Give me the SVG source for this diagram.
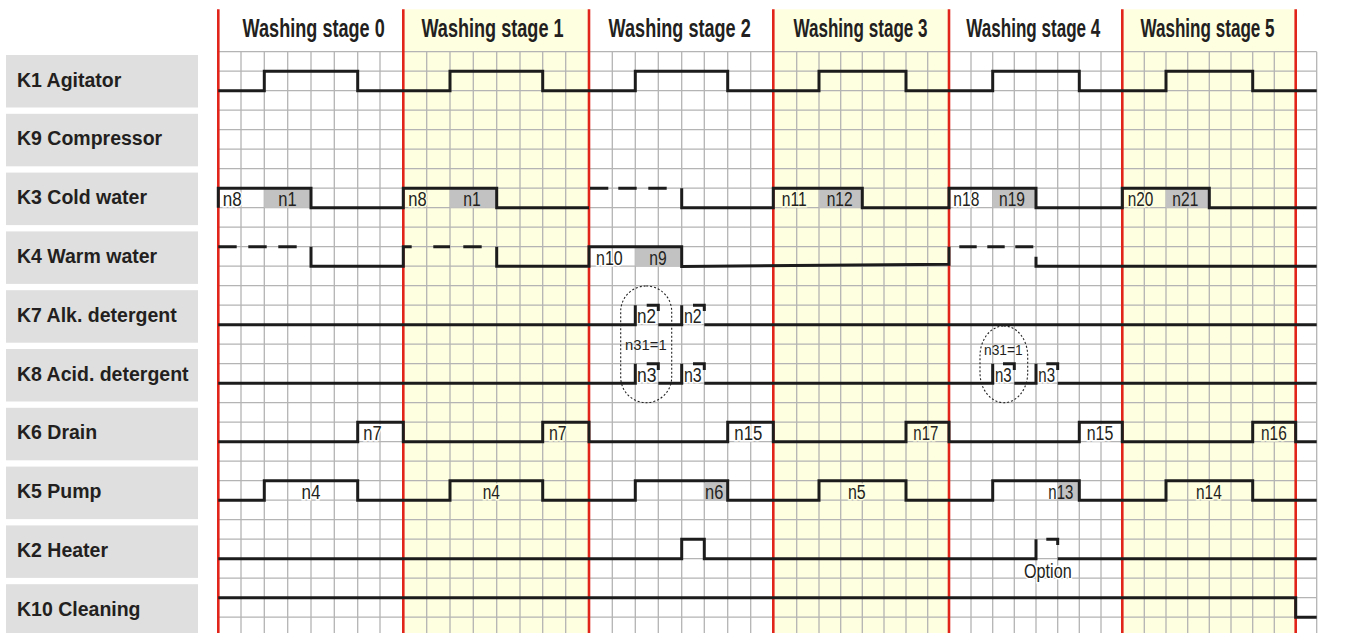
<svg xmlns="http://www.w3.org/2000/svg" width="1358" height="633" viewBox="0 0 1358 633">
<style>
.bgy{fill:#fefee0}
.grid{stroke:#b4b4b4;stroke-width:1.3;fill:none}
.red{stroke:#e1251b;stroke-width:2.6;fill:none}
.sig{stroke:#1c1c1c;stroke-width:3;fill:none;stroke-linejoin:miter;stroke-linecap:butt}
.box{fill:#dfdfdf}
.gray{fill:#c2c2c2}
.dot{fill:none;stroke:#222;stroke-width:1.1;stroke-dasharray:2 2}
.lbl{font-family:"Liberation Sans",Arial,sans-serif;font-weight:bold;font-size:19.5px;fill:#231f20}
.hdr{font-family:"Liberation Sans",Arial,sans-serif;font-weight:bold;font-size:25.5px;fill:#231f20;text-anchor:middle}
.n{font-family:"Liberation Sans",Arial,sans-serif;font-size:20px;fill:#231f20}
.s{font-family:"Liberation Sans",Arial,sans-serif;font-size:14.5px;fill:#231f20}
.hw{stroke:#fff;stroke-width:3;paint-order:stroke}
.hy{stroke:#fefee0;stroke-width:3;paint-order:stroke}
</style>
<rect x="0" y="0" width="1358" height="633" fill="#fff"/>
<g id="stage-backgrounds">
<rect class="bgy" x="403.3" y="9.3" width="185.7" height="623.7"/>
<rect class="bgy" x="773.3" y="9.3" width="175.7" height="623.7"/>
<rect class="bgy" x="1122.3" y="9.3" width="173.4" height="623.7"/>
</g>
<g id="grid">
<path class="grid" d="M218.3 51.7V633M241 51.7V633M264.3 51.7V633M287.7 51.7V633M311 51.7V633M334.3 51.7V633M357.7 51.7V633M380 51.7V633M403.3 51.7V633M426.7 51.7V633M450 51.7V633M473.3 51.7V633M496.7 51.7V633M520 51.7V633M542.7 51.7V633M565.7 51.7V633M589 51.7V633M612.3 51.7V633M635.3 51.7V633M658.3 51.7V633M681.7 51.7V633M704.3 51.7V633M727.7 51.7V633M750.7 51.7V633M773.3 51.7V633M796.7 51.7V633M819 51.7V633M840.7 51.7V633M862.3 51.7V633M884 51.7V633M906 51.7V633M927.7 51.7V633M949 51.7V633M971 51.7V633M992.7 51.7V633M1014.3 51.7V633M1036 51.7V633M1057.7 51.7V633M1079.3 51.7V633M1101 51.7V633M1122.3 51.7V633M1144.3 51.7V633M1166 51.7V633M1187.7 51.7V633M1209.3 51.7V633M1231 51.7V633M1252.7 51.7V633M1274.3 51.7V633M1295.7 51.7V633M1316.7 51.7V633"/>
<path class="grid" d="M218.3 51.7H1316.7M218.3 71.2H1316.7M218.3 90.7H1316.7M218.3 110.2H1316.7M218.3 129.7H1316.7M218.3 149.2H1316.7M218.3 168.7H1316.7M218.3 188.2H1316.7M218.3 207.7H1316.7M218.3 227.2H1316.7M218.3 246.7H1316.7M218.3 266.2H1316.7M218.3 285.7H1316.7M218.3 305.2H1316.7M218.3 324.7H1316.7M218.3 344.2H1316.7M218.3 363.7H1316.7M218.3 383.2H1316.7M218.3 402.7H1316.7M218.3 422.2H1316.7M218.3 441.7H1316.7M218.3 461.2H1316.7M218.3 480.7H1316.7M218.3 500.2H1316.7M218.3 519.7H1316.7M218.3 539.2H1316.7M218.3 558.7H1316.7M218.3 578.2H1316.7M218.3 597.7H1316.7M218.3 617.2H1316.7"/>
</g>
<g id="stage-dividers">
<path class="red" d="M218.3 9.3V633M403.3 9.3V633M589 9.3V633M773.3 9.3V633M949 9.3V633M1122.3 9.3V633M1295.7 9.3V633"/>
</g>
<g id="stage-headers">
<g id="stage0"><text class="hdr" transform="translate(313.7 36.7) scale(0.71 1)">Washing stage 0</text></g>
<g id="stage1"><text class="hdr" transform="translate(492.5 36.7) scale(0.71 1)">Washing stage 1</text></g>
<g id="stage2"><text class="hdr" transform="translate(679.7 36.7) scale(0.71 1)">Washing stage 2</text></g>
<g id="stage3"><text class="hdr" transform="translate(860.5 36.7) scale(0.67 1)">Washing stage 3</text></g>
<g id="stage4"><text class="hdr" transform="translate(1033.3 36.7) scale(0.67 1)">Washing stage 4</text></g>
<g id="stage5"><text class="hdr" transform="translate(1207.5 36.7) scale(0.67 1)">Washing stage 5</text></g>
</g>
<g id="row-labels">
<g id="label-K1"><rect class="box" x="6" y="55" width="192" height="52.5"/><text class="lbl" x="17" y="86.5">K1 Agitator</text></g>
<g id="label-K9"><rect class="box" x="6" y="113.8" width="192" height="52.5"/><text class="lbl" x="17" y="145.3">K9 Compressor</text></g>
<g id="label-K3"><rect class="box" x="6" y="172.6" width="192" height="52.5"/><text class="lbl" x="17" y="204.1">K3 Cold water</text></g>
<g id="label-K4"><rect class="box" x="6" y="231.4" width="192" height="52.5"/><text class="lbl" x="17" y="262.9">K4 Warm water</text></g>
<g id="label-K7"><rect class="box" x="6" y="290.2" width="192" height="52.5"/><text class="lbl" x="17" y="321.7">K7 Alk. detergent</text></g>
<g id="label-K8"><rect class="box" x="6" y="349" width="192" height="52.5"/><text class="lbl" x="17" y="380.5">K8 Acid. detergent</text></g>
<g id="label-K6"><rect class="box" x="6" y="407.8" width="192" height="52.5"/><text class="lbl" x="17" y="439.3">K6 Drain</text></g>
<g id="label-K5"><rect class="box" x="6" y="466.6" width="192" height="52.5"/><text class="lbl" x="17" y="498.1">K5 Pump</text></g>
<g id="label-K2"><rect class="box" x="6" y="525.4" width="192" height="52.5"/><text class="lbl" x="17" y="556.9">K2 Heater</text></g>
<g id="label-K10"><rect class="box" x="6" y="584.2" width="192" height="52.5"/><text class="lbl" x="17" y="615.7">K10 Cleaning</text></g>
</g>
<g id="time-boxes">
<rect class="gray" x="264.3" y="188.2" width="46.7" height="19.5"/>
<rect class="gray" x="450" y="188.2" width="46.7" height="19.5"/>
<rect class="gray" x="819" y="188.2" width="43.3" height="19.5"/>
<rect class="gray" x="992.7" y="188.2" width="43.3" height="19.5"/>
<rect class="gray" x="1166" y="188.2" width="43.3" height="19.5"/>
<rect class="gray" x="635.3" y="246.7" width="46.4" height="19.5"/>
<rect class="gray" x="704.3" y="482.5" width="23.4" height="17.7"/>
<rect class="gray" x="1057.7" y="482.5" width="21.6" height="17.7"/>
</g>
<g id="annotations">
<rect class="dot" x="620.7" y="286" width="51" height="116.7" rx="25.5" ry="25.5"/>
<rect class="dot" x="980" y="326" width="47.7" height="76.7" rx="23.8" ry="30"/>
<text class="s" x="625" y="350" textLength="41.7" lengthAdjust="spacingAndGlyphs">n31=1</text>
<text class="s" x="984" y="355" textLength="38.7" lengthAdjust="spacingAndGlyphs">n31=1</text>
<text class="n hw" x="1024" y="578" textLength="47.7" lengthAdjust="spacingAndGlyphs">Option</text>
</g>
<g id="signal-labels">
<text class="n hw" x="222.7" y="206.3" textLength="19" lengthAdjust="spacingAndGlyphs">n8</text>
<text class="n" x="278.3" y="206.3" textLength="18.4" lengthAdjust="spacingAndGlyphs">n1</text>
<text class="n hy" x="408.3" y="206.3" textLength="18.4" lengthAdjust="spacingAndGlyphs">n8</text>
<text class="n" x="463.3" y="206.3" textLength="17.5" lengthAdjust="spacingAndGlyphs">n1</text>
<text class="n hy" x="781.7" y="206.3" textLength="25" lengthAdjust="spacingAndGlyphs">n11</text>
<text class="n" x="826.7" y="206.3" textLength="26" lengthAdjust="spacingAndGlyphs">n12</text>
<text class="n hw" x="953.3" y="206.3" textLength="26" lengthAdjust="spacingAndGlyphs">n18</text>
<text class="n" x="999" y="206.3" textLength="26" lengthAdjust="spacingAndGlyphs">n19</text>
<text class="n hy" x="1127.7" y="206.3" textLength="25.6" lengthAdjust="spacingAndGlyphs">n20</text>
<text class="n" x="1172.3" y="206.3" textLength="26" lengthAdjust="spacingAndGlyphs">n21</text>
<text class="n hw" x="596" y="264.8" textLength="26.7" lengthAdjust="spacingAndGlyphs">n10</text>
<text class="n" x="649.3" y="264.8" textLength="17.4" lengthAdjust="spacingAndGlyphs">n9</text>
<text class="n hw" x="637" y="323.3" textLength="19" lengthAdjust="spacingAndGlyphs">n2</text>
<text class="n hw" x="684" y="323.3" textLength="17.7" lengthAdjust="spacingAndGlyphs">n2</text>
<text class="n hw" x="637" y="381.8" textLength="19.5" lengthAdjust="spacingAndGlyphs">n3</text>
<text class="n hw" x="684" y="381.8" textLength="17.7" lengthAdjust="spacingAndGlyphs">n3</text>
<text class="n hw" x="995" y="381.8" textLength="16.7" lengthAdjust="spacingAndGlyphs">n3</text>
<text class="n hw" x="1038.3" y="381.8" textLength="16.7" lengthAdjust="spacingAndGlyphs">n3</text>
<text class="n hw" x="363.3" y="440.3" textLength="18.4" lengthAdjust="spacingAndGlyphs">n7</text>
<text class="n hy" x="549" y="440.3" textLength="17.7" lengthAdjust="spacingAndGlyphs">n7</text>
<text class="n hw" x="734.3" y="440.3" textLength="28" lengthAdjust="spacingAndGlyphs">n15</text>
<text class="n hy" x="913.3" y="440.3" textLength="25" lengthAdjust="spacingAndGlyphs">n17</text>
<text class="n hw" x="1086.7" y="440.3" textLength="26.6" lengthAdjust="spacingAndGlyphs">n15</text>
<text class="n hy" x="1261" y="440.3" textLength="25.7" lengthAdjust="spacingAndGlyphs">n16</text>
<text class="n hw" x="301.5" y="498.8" textLength="19" lengthAdjust="spacingAndGlyphs">n4</text>
<text class="n hy" x="482.7" y="498.8" textLength="17.3" lengthAdjust="spacingAndGlyphs">n4</text>
<text class="n" x="705" y="498.8" textLength="18.3" lengthAdjust="spacingAndGlyphs">n6</text>
<text class="n hy" x="848" y="498.8" textLength="17.7" lengthAdjust="spacingAndGlyphs">n5</text>
<text class="n" x="1048.3" y="498.8" textLength="25" lengthAdjust="spacingAndGlyphs">n13</text>
<text class="n hy" x="1196" y="498.8" textLength="25.7" lengthAdjust="spacingAndGlyphs">n14</text>
</g>
<g id="signals">
<g id="sig-K1"><path class="sig" d="M218.3 90.7H264.3V71.2H357.7V90.7H450V71.2H542.7V90.7H635.3V71.2H727.7V90.7H819V71.2H906V90.7H992.7V71.2H1079.3V90.7H1166V71.2H1252.7V90.7H1316.7"/></g>
<g id="sig-K3"><path class="sig" d="M218.3 207.7V188.2H311V207.7H403.3V188.2H496.7V207.7H589M590 188.2H608.3M618.3 188.2H636.7M648.3 188.2H666.7M681.7 188.2V207.7H773.3V188.2H862.3V207.7H949V188.2H1036V207.7H1122.3V188.2H1209.3V207.7H1316.7"/></g>
<g id="sig-K4"><path class="sig" d="M218.3 246.7H236.7M248.3 246.7H266.7M278.3 246.7H296.7M311 246.7V266.2H403.3V246.7H411.7M433.3 246.7H450M463.3 246.7H481.7M496.7 246.7V266.2H589V246.7H681.7V266.4L949 264.2V246.7M959.3 246.7H976.7M987.3 246.7H1004.7M1015.3 246.7H1033.3M1036 256.7V266.2H1316.7"/></g>
<g id="sig-K7"><path class="sig" d="M218.3 324.7H635.3V305.2M646.7 305.2H658.3V311M658.3 324.7H681.7V305.2M693 305.2H704.3V311M704.3 324.7H1316.7"/></g>
<g id="sig-K8"><path class="sig" d="M218.3 383.2H635.3V363.7M646.7 363.7H658.3V370M658.3 383.2H681.7V363.7M693 363.7H704.3V370M704.3 383.2H992.7V363.7M1003 363.7H1014.3V370M1014.3 383.2H1036V363.7M1046.3 363.7H1057.7V370M1057.7 383.2H1316.7"/></g>
<g id="sig-K6"><path class="sig" d="M218.3 441.7H357.7V422.2H403.3V441.7H542.7V422.2H589V441.7H727.7V422.2H773.3V441.7H906V422.2H949V441.7H1079.3V422.2H1122.3V441.7H1252.7V422.2H1295.7V441.7H1316.7"/></g>
<g id="sig-K5"><path class="sig" d="M218.3 500.2H264.3V480.7H357.7V500.2H450V480.7H542.7V500.2H635.3V480.7H727.7V500.2H819V480.7H906V500.2H992.7V480.7H1079.3V500.2H1166V480.7H1252.7V500.2H1316.7"/></g>
<g id="sig-K2"><path class="sig" d="M218.3 558.7H681.7V539.2H704.3V558.7H1036V539.2M1046.3 539.2H1057.7V545M1057.7 558.7H1316.7"/></g>
<g id="sig-K10"><path class="sig" d="M218.3 597.7H1295.7V617.2H1316.7"/></g>
</g>
</svg>
